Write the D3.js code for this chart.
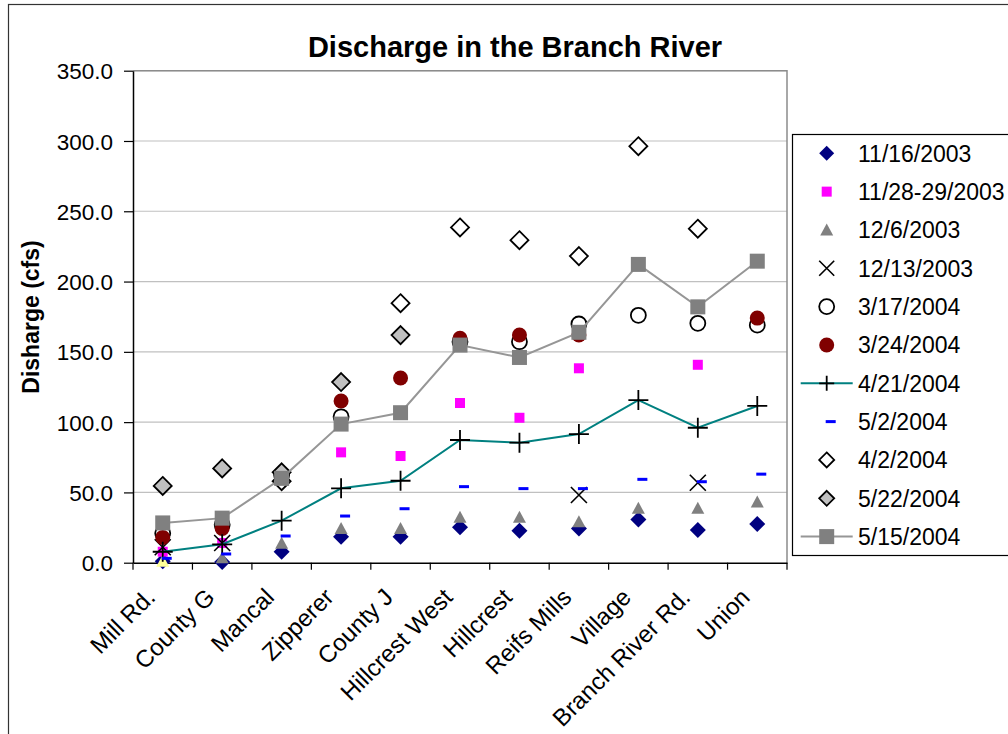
<!DOCTYPE html>
<html>
<head>
<meta charset="utf-8">
<script src="https://cdn.jsdelivr.net/npm/d3@7"></script>
<style>
    html, body { margin: 0; padding: 0; background: #fff; }
    svg text { font-family: 'Liberation Sans', Arial, sans-serif; fill: #000; }
</style>
</head>
<body>
<div id="chart"></div>
<script>
'use strict';

// Sampling sites along the river (x axis).
var categories = ['Mill Rd.', 'County G', 'Mancal', 'Zipperer', 'County J', 'Hillcrest West',
    'Hillcrest', 'Reifs Mills', 'Village', 'Branch River Rd.', 'Union'];

var yTicks = [0, 50, 100, 150, 200, 250, 300, 350];

// Discharge (cfs) per site and sampling date, null = no measurement.
var q20031116 = [1, 0.5, 7.8, 18.5, 18.5, 25.2, 22.8, 24.4, 30.8, 23.3, 27.5];
var q20031128 = [7.8, 14, null, 78.5, 75.9, 113.6, 103.1, 138.3, null, 140.8, null];
var q20031206 = [1, 3.5, 13.8, 24.4, 24.4, 32.3, 32.3, 29.2, 38.7, 38.7, 43.2];
var q20031213 = [11, 14, null, null, null, null, null, 48.2, null, 56.9, null];
var q20040317 = [20.9, 27, 62.4, 103.8, null, 157.2, 157.2, 169.8, 176, 170.3, 169];
var q20040324 = [18, 24.4, null, 115, 131.4, 159.6, 162, 162, null, null, 174];
var q20040421 = [7.8, 13.1, 29.9, 52.9, 58.3, 87.3, 85.4, 91.5, 115.7, 96, 111.5];
var q20040502 = [3.1, 6.2, 19, 33.2, 38.4, 54.1, 52.7, 52.7, 59.3, 57.6, 63];
var q20040402 = [null, null, 58, null, 184.6, 238.5, 229.4, 218.1, 296.3, 237.6, null];
var q20040522 = [54.6, 67.1, 64.3, 128.5, 161.9, null, null, null, null, null, null];
var q20040515 = [28.3, 31.7, 60, 98.6, 106.7, 154.8, 146, 163.9, 212.2, 182, 214.5];

var seriesNames = ['11/16/2003', '11/28-29/2003', '12/6/2003', '12/13/2003', '3/17/2004', '3/24/2004',
    '4/21/2004', '5/2/2004', '4/2/2004', '5/22/2004', '5/15/2004'];

var seriesValues = [q20031116, q20031128, q20031206, q20031213, q20040317, q20040324,
    q20040421, q20040502, q20040402, q20040522, q20040515];

// Marker look per series, same order as the names.
var seriesStyles = [
    {marker: 'diamond', fill: '#000080', stroke: 'none', size: 8},
    {marker: 'square', fill: '#ff00ff', stroke: 'none', size: 5},
    {marker: 'triangle', fill: '#808080', stroke: 'none', size: 6.5},
    {marker: 'x', fill: 'none', stroke: '#000', size: 8},
    {marker: 'circle', fill: '#fff', stroke: '#000', size: 7.5},
    {marker: 'circle', fill: '#800000', stroke: 'none', size: 7.5},
    {marker: 'plus', fill: 'none', stroke: '#000', size: 10, line: '#008080'},
    {marker: 'dash', fill: '#0000ff', stroke: 'none', size: 5},
    {marker: 'diamond', fill: '#fff', stroke: '#000', size: 9},
    {marker: 'diamond', fill: '#c0c0c0', stroke: '#000', size: 9},
    {marker: 'square', fill: '#808080', stroke: 'none', size: 7.5, line: '#969696'}
];

var width  = 1008,
    height = 734,
    plot   = {left: 133, top: 70.7, right: 787, bottom: 562.7};

var svg = d3.select('#chart').append('svg')
    .attr('width', width)
    .attr('height', height);

// Chart frame (runs off the right and bottom edge like the original).
svg.append('rect')
    .attr('x', 8.5).attr('y', 4.5)
    .attr('width', 1100).attr('height', 800)
    .attr('fill', '#fff')
    .attr('stroke', '#333').attr('stroke-width', 1.2);

var x = d3.scaleBand()
    .domain(categories)
    .range([plot.left, plot.right]);

var y = d3.scaleLinear()
    .domain([0, 350])
    .range([plot.bottom, plot.top]);

function cx(i) {
    return x(categories[i]) + x.bandwidth() / 2;
}

// Gridlines.
svg.append('g')
    .selectAll('line')
    .data(yTicks.slice(1))
    .enter().append('line')
    .attr('x1', plot.left).attr('x2', plot.right)
    .attr('y1', function (d) { return y(d); })
    .attr('y2', function (d) { return y(d); })
    .attr('stroke', '#c0c0c0').attr('stroke-width', 1.2);

// Plot area border (top and right).
svg.append('path')
    .attr('d', 'M' + plot.left + ',' + y(350) + 'H' + plot.right + 'V' + plot.bottom)
    .attr('fill', 'none')
    .attr('stroke', '#8c8c8c').attr('stroke-width', 1.5);

// Y axis.
var yAxis = svg.append('g')
    .attr('transform', 'translate(' + plot.left + ',0)')
    .call(d3.axisLeft(y).tickValues(yTicks).tickFormat(d3.format('.1f')).tickSize(9).tickPadding(11).tickSizeOuter(0));

yAxis.select('.domain').attr('stroke', '#000').attr('stroke-width', 1.5);
yAxis.selectAll('.tick line').attr('stroke', '#000').attr('stroke-width', 1.2);
yAxis.selectAll('.tick text')
    .style('font-size', '22.5px')
    .attr('dy', '0.36em');

// X axis, ticks sit between the sites.
var xAxis = svg.append('g')
    .attr('transform', 'translate(0,' + plot.bottom + ')')
    .call(d3.axisBottom(x).tickSize(0).tickSizeOuter(0));

xAxis.select('.domain').attr('stroke', '#000').attr('stroke-width', 1.5);
xAxis.selectAll('.tick text')
    .attr('x', null).attr('y', null).attr('dy', null)
    .attr('text-anchor', 'end')
    .attr('transform', 'translate(-6,36) rotate(-45)')
    .style('font-size', '24px');

xAxis.selectAll('.sep')
    .data(d3.range(categories.length + 1))
    .enter().append('line')
    .attr('class', 'sep')
    .attr('x1', function (i) { return plot.left + i * x.step(); })
    .attr('x2', function (i) { return plot.left + i * x.step(); })
    .attr('y1', 0).attr('y2', 7)
    .attr('stroke', '#000').attr('stroke-width', 1.2);

// Title and axis label.
svg.append('text')
    .attr('x', 515).attr('y', 57)
    .attr('text-anchor', 'middle')
    .style('font-size', '29px').style('font-weight', 'bold')
    .text('Discharge in the Branch River');

svg.append('text')
    .attr('transform', 'translate(38.5,317) rotate(-90)')
    .attr('text-anchor', 'middle')
    .style('font-size', '23px').style('font-weight', 'bold')
    .text('Disharge (cfs)');

function drawMarker(g, style, fillOverride) {
    var r    = style.size,
        fill = fillOverride || style.fill;

    if (style.marker === 'diamond') {
        g.append('path')
            .attr('d', 'M0,' + (-r) + 'L' + r + ',0L0,' + r + 'L' + (-r) + ',0Z')
            .attr('fill', fill).attr('stroke', style.stroke).attr('stroke-width', 1.8);
    } else if (style.marker === 'square') {
        g.append('rect')
            .attr('x', -r).attr('y', -r).attr('width', 2 * r).attr('height', 2 * r)
            .attr('fill', fill);
    } else if (style.marker === 'triangle') {
        g.append('path')
            .attr('d', 'M0,' + (-r) + 'L' + r + ',' + r * 0.85 + 'L' + (-r) + ',' + r * 0.85 + 'Z')
            .attr('fill', fill);
    } else if (style.marker === 'x') {
        g.append('path')
            .attr('d', 'M' + (-r) + ',' + (-r) + 'L' + r + ',' + r + 'M' + r + ',' + (-r) + 'L' + (-r) + ',' + r)
            .attr('fill', 'none').attr('stroke', style.stroke).attr('stroke-width', 1.6);
    } else if (style.marker === 'plus') {
        g.append('path')
            .attr('d', 'M' + (-r) + ',0H' + r + 'M0,' + (-r) + 'V' + r)
            .attr('fill', 'none').attr('stroke', style.stroke).attr('stroke-width', 1.8);
    } else if (style.marker === 'circle') {
        g.append('circle')
            .attr('r', r)
            .attr('fill', fill).attr('stroke', style.stroke).attr('stroke-width', 1.8);
    } else if (style.marker === 'dash') {
        g.append('rect')
            .attr('x', -r + 4).attr('y', -1.5).attr('width', 2 * r).attr('height', 3)
            .attr('fill', fill);
    }
}

// Series, drawn in legend order so later dates sit on top.
var plotArea = svg.append('g');

seriesValues.forEach(function (values, s) {
    var style = seriesStyles[s],
        sg    = plotArea.append('g'),
        pts   = values.map(function (v, i) { return {i: i, v: v}; })
            .filter(function (d) { return d.v !== null; });

    if (style.line) {
        sg.append('path')
            .datum(pts)
            .attr('d', d3.line()
                .x(function (d) { return cx(d.i); })
                .y(function (d) { return y(d.v); }))
            .attr('fill', 'none')
            .attr('stroke', style.line).attr('stroke-width', 2);
    }

    pts.forEach(function (d) {
        var mg = sg.append('g')
            .attr('transform', 'translate(' + cx(d.i) + ',' + y(d.v) + ')');

        // The 12/6/2003 point at Mill Rd. is shown highlighted in the original.
        drawMarker(mg, style, (s === 2 && d.i === 0) ? '#ffff99' : null);
    });
});

// Legend.
var legend = svg.append('g');

legend.append('rect')
    .attr('x', 792.5).attr('y', 134.5)
    .attr('width', 300).attr('height', 421)
    .attr('fill', '#fff')
    .attr('stroke', '#000').attr('stroke-width', 1.2);

seriesNames.forEach(function (name, s) {
    var style = seriesStyles[s],
        ly    = 153.3 + s * 38.33,
        lg    = legend.append('g').attr('transform', 'translate(826.7,' + ly + ')'),
        small = Object.assign({}, style, {size: Math.min(style.size, 7.5)});

    if (style.marker === 'diamond') {
        small.size = 7.5;
    }

    if (style.line) {
        lg.append('line')
            .attr('x1', -26).attr('x2', 26)
            .attr('stroke', style.line).attr('stroke-width', 2);
    }

    drawMarker(lg, small);

    legend.append('text')
        .attr('x', 858).attr('y', ly)
        .attr('dy', '0.36em')
        .style('font-size', '23px')
        .text(name);
});
</script>
</body>
</html>
